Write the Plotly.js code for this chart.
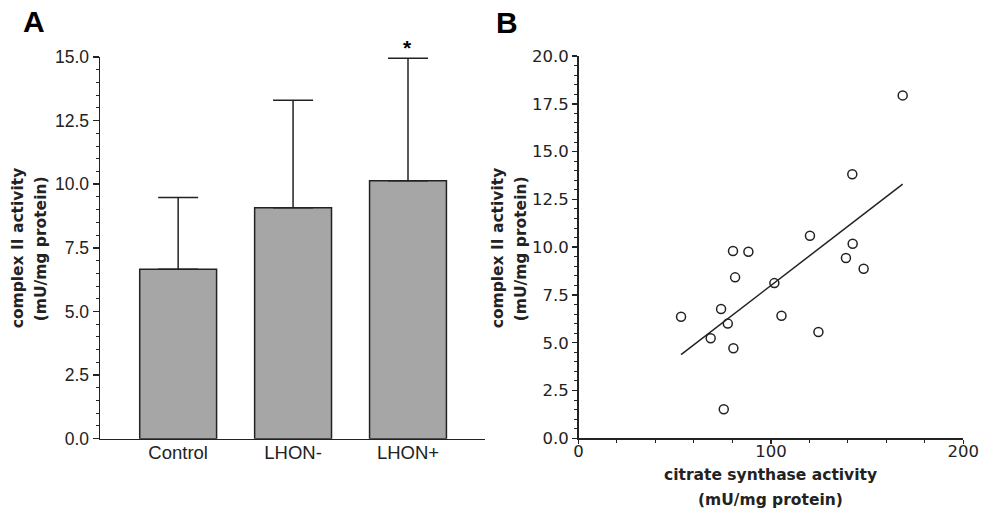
<!DOCTYPE html>
<html>
<head>
<meta charset="utf-8">
<script src="https://cdn.plot.ly/plotly-3.0.1.min.js"></script>
<style>html,body{margin:0;padding:0;background:#fff;}#chart{width:982px;height:513px;}</style>
</head>
<body>
<div id="chart"></div>
<script>
// Panel A data
const groups = ["Control", "LHON-", "LHON+"];
const meanActivity = [6.66, 9.08, 10.14];
const sdActivity = [2.82, 4.22, 4.81];

// Panel B data
const citrateSynthase = [53.3, 74.1, 77.6, 68.7, 80.5, 75.5, 80.3, 88.3, 81.4, 101.8, 105.5, 120.3, 124.7, 142.5, 139.0, 148.2, 168.5, 142.3];
const complexII = [6.36, 6.76, 6.00, 5.23, 4.71, 1.52, 9.80, 9.76, 8.42, 8.12, 6.41, 10.60, 5.56, 10.18, 9.43, 8.87, 17.94, 13.81];

// least squares fit
const n = citrateSynthase.length;
const mx = citrateSynthase.reduce((a,b)=>a+b,0)/n;
const my = complexII.reduce((a,b)=>a+b,0)/n;
let sxy=0, sxx=0;
for (let i=0;i<n;i++){ sxy += (citrateSynthase[i]-mx)*(complexII[i]-my); sxx += (citrateSynthase[i]-mx)**2; }
const slope = sxy/sxx, intercept = my - slope*mx;
const fitX = [Math.min(...citrateSynthase), Math.max(...citrateSynthase)];
const fitY = fitX.map(x => intercept + slope*x);

const W = 982, H = 513;
const px = v => v / W;
const py = v => (H - v) / H;
const ink = '#222';

const traces = [
  {
    type: 'bar', x: groups, y: meanActivity, xaxis: 'x', yaxis: 'y',
    marker: {color: '#a6a6a6', line: {color: ink, width: 1.5}},
    error_y: {type: 'data', array: sdActivity, arrayminus: groups.map(()=>0), symmetric: false,
              width: 20, thickness: 1.5, color: ink},
    hoverinfo: 'none'
  },
  {
    type: 'scatter', mode: 'lines', x: fitX, y: fitY, xaxis: 'x2', yaxis: 'y2',
    line: {color: ink, width: 1.5}, hoverinfo: 'none'
  },
  {
    type: 'scatter', mode: 'markers', x: citrateSynthase, y: complexII, xaxis: 'x2', yaxis: 'y2',
    marker: {symbol: 'circle-open', size: 9, color: ink, line: {width: 1.5, color: ink}},
    cliponaxis: false, hoverinfo: 'none'
  }
];

const tickA = {family: 'Liberation Sans, Arial, sans-serif', size: 17.5, color: ink};
const tickB = {family: 'DejaVu Sans, sans-serif', size: 16.5, color: ink};
const titleFont = {family: 'DejaVu Sans, sans-serif', size: 15.5, color: ink};

const layout = {
  width: W, height: H,
  margin: {l: 0, r: 0, t: 0, b: 0},
  paper_bgcolor: '#fff', plot_bgcolor: '#fff',
  showlegend: false,
  bargap: 0.331,
  xaxis: {
    domain: [px(100), px(485)], anchor: 'y', type: 'category',
    range: [-0.68, 2.67], showline: true, linecolor: ink, linewidth: 1.5,
    ticks: '', ticklabelstandoff: -3,
    showgrid: false, zeroline: false, fixedrange: true,
    tickfont: {family: 'Liberation Sans, Arial, sans-serif', size: 18.5, color: ink}
  },
  yaxis: {
    domain: [py(438.7), py(57)], anchor: 'x',
    range: [0, 15], tick0: 0, dtick: 2.5, tickformat: '.1f',
    showline: true, linecolor: ink, linewidth: 1.5,
    ticks: 'outside', ticklen: 6, tickwidth: 1.5, tickcolor: ink,
    minor: {dtick: 0.5, ticks: 'outside', ticklen: 3, tickwidth: 1, tickcolor: ink},
    showgrid: false, zeroline: false, fixedrange: true, tickfont: tickA
  },
  xaxis2: {
    domain: [px(578.5), px(963.3)], anchor: 'y2',
    range: [0, 200], tick0: 0, dtick: 100,
    showline: true, linecolor: ink, linewidth: 1.5,
    ticks: 'outside', ticklen: 4, tickwidth: 1.5, tickcolor: ink,
    ticklabelstandoff: -7,
    minor: {dtick: 20, ticks: 'outside', ticklen: 3, tickwidth: 1, tickcolor: ink},
    showgrid: false, zeroline: false, fixedrange: true, tickfont: tickB
  },
  yaxis2: {
    domain: [py(438.3), py(56)], anchor: 'x2',
    range: [0, 20], tick0: 0, dtick: 2.5, tickformat: '.1f',
    showline: true, linecolor: ink, linewidth: 1.5,
    ticks: 'outside', ticklen: 5, tickwidth: 1.5, tickcolor: ink,
    minor: {dtick: 0.5, ticks: 'outside', ticklen: 3, tickwidth: 1, tickcolor: ink},
    showgrid: false, zeroline: false, fixedrange: true, tickfont: tickB
  },
  annotations: [
    {text: '<b>A</b>', xref: 'paper', yref: 'paper', x: px(34), y: py(21), xanchor: 'center', yanchor: 'middle', showarrow: false,
     font: {family: 'Liberation Sans, Arial, sans-serif', size: 30, color: '#000'}},
    {text: '<b>B</b>', xref: 'paper', yref: 'paper', x: px(507), y: py(22), xanchor: 'center', yanchor: 'middle', showarrow: false,
     font: {family: 'Liberation Sans, Arial, sans-serif', size: 30, color: '#000'}},
    {text: '<b>*</b>', xref: 'paper', yref: 'paper', x: px(407.7), y: py(47), xanchor: 'center', yanchor: 'middle', showarrow: false,
     font: {family: 'Liberation Sans, Arial, sans-serif', size: 21, color: '#000'}},
    {text: '<b>complex II activity</b>', xref: 'paper', yref: 'paper', x: px(18.3), y: py(248), textangle: -90, xanchor: 'center', yanchor: 'middle', showarrow: false, font: titleFont},
    {text: '<b>(mU/mg protein)</b>', xref: 'paper', yref: 'paper', x: px(40.8), y: py(248.5), textangle: -90, xanchor: 'center', yanchor: 'middle', showarrow: false, font: titleFont},
    {text: '<b>complex II activity</b>', xref: 'paper', yref: 'paper', x: px(498.3), y: py(248), textangle: -90, xanchor: 'center', yanchor: 'middle', showarrow: false, font: titleFont},
    {text: '<b>(mU/mg protein)</b>', xref: 'paper', yref: 'paper', x: px(520.8), y: py(248.5), textangle: -90, xanchor: 'center', yanchor: 'middle', showarrow: false, font: titleFont},
    {text: '<b>citrate synthase activity</b>', xref: 'paper', yref: 'paper', x: px(770), y: py(475), xanchor: 'center', yanchor: 'middle', showarrow: false, font: titleFont},
    {text: '<b>(mU/mg protein)</b>', xref: 'paper', yref: 'paper', x: px(770), y: py(500), xanchor: 'center', yanchor: 'middle', showarrow: false, font: titleFont}
  ]
};

Plotly.newPlot('chart', traces, layout, {displayModeBar: false, staticPlot: true});
</script>
</body>
</html>
